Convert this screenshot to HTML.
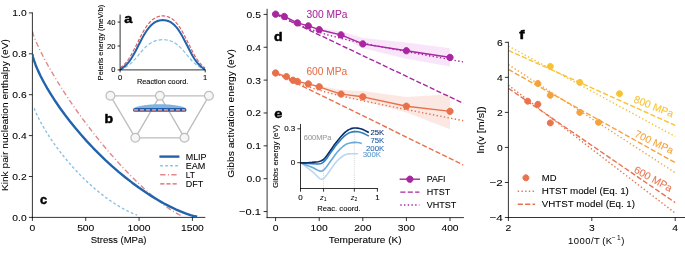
<!DOCTYPE html>
<html><head><meta charset="utf-8"><title>figure</title>
<style>html,body{margin:0;padding:0;background:#fff;}svg{display:block;will-change:transform;}text{font-family:"Liberation Sans",sans-serif;}</style>
</head><body>
<svg width="685" height="254" viewBox="0 0 685 254" version="1.1">
<defs>
<style type="text/css">*{stroke-linejoin: round; stroke-linecap: butt}</style>
</defs>
<g id="figure_1">
<g id="patch_1">
<path d="M 0 254 
L 685 254 
L 685 0 
L 0 0 
z
" style="fill: #ffffff"/>
</g>
<g id="axes_1">
<g id="patch_2">
<path d="M 32.4 217.4 
L 204.8 217.4 
L 204.8 12.9 
L 32.4 12.9 
z
" style="fill: #ffffff"/>
</g>
<g id="matplotlib.axis_1">
<g id="xtick_1">
<g id="line2d_1">
<defs>
<path id="mafdbf0f723" d="M 0 0 
L 0 3.5 
" style="stroke: #000000; stroke-width: 0.8"/>
</defs>
<g>
<use href="#mafdbf0f723" x="32.4" y="217.4" style="stroke: #000000; stroke-width: 0.8"/>
</g>
</g>
<g id="text_1">
<text style="font-size: 9.495px; font-family: 'Liberation Sans'; text-anchor: middle; stroke: #000000; stroke-width: 0.08px" x="32.4" y="231.238594" transform="rotate(-0 32.4 231.238594)" textLength="5.73" lengthAdjust="spacingAndGlyphs">0</text>
</g>
</g>
<g id="xtick_2">
<g id="line2d_2">
<g>
<use href="#mafdbf0f723" x="85.733333" y="217.4" style="stroke: #000000; stroke-width: 0.8"/>
</g>
</g>
<g id="text_2">
<text style="font-size: 9.495px; font-family: 'Liberation Sans'; text-anchor: middle; stroke: #000000; stroke-width: 0.08px" x="85.733333" y="231.238594" transform="rotate(-0 85.733333 231.238594)" textLength="17.18" lengthAdjust="spacingAndGlyphs">500</text>
</g>
</g>
<g id="xtick_3">
<g id="line2d_3">
<g>
<use href="#mafdbf0f723" x="139.066667" y="217.4" style="stroke: #000000; stroke-width: 0.8"/>
</g>
</g>
<g id="text_3">
<text style="font-size: 9.495px; font-family: 'Liberation Sans'; text-anchor: middle; stroke: #000000; stroke-width: 0.08px" x="139.066667" y="231.238594" transform="rotate(-0 139.066667 231.238594)" textLength="22.90" lengthAdjust="spacingAndGlyphs">1000</text>
</g>
</g>
<g id="xtick_4">
<g id="line2d_4">
<g>
<use href="#mafdbf0f723" x="192.4" y="217.4" style="stroke: #000000; stroke-width: 0.8"/>
</g>
</g>
<g id="text_4">
<text style="font-size: 9.495px; font-family: 'Liberation Sans'; text-anchor: middle; stroke: #000000; stroke-width: 0.08px" x="192.4" y="231.238594" transform="rotate(-0 192.4 231.238594)" textLength="22.90" lengthAdjust="spacingAndGlyphs">1500</text>
</g>
</g>
<g id="text_5">
<text style="font-size: 9.495px; font-family: 'Liberation Sans'; text-anchor: middle; stroke: #000000; stroke-width: 0.08px" x="118.6" y="242.948906" transform="rotate(-0 118.6 242.948906)" textLength="55.85" lengthAdjust="spacingAndGlyphs">Stress (MPa)</text>
</g>
</g>
<g id="matplotlib.axis_2">
<g id="ytick_1">
<g id="line2d_5">
<defs>
<path id="m2ff1580961" d="M 0 0 
L -3.5 0 
" style="stroke: #000000; stroke-width: 0.8"/>
</defs>
<g>
<use href="#m2ff1580961" x="32.4" y="217.4" style="stroke: #000000; stroke-width: 0.8"/>
</g>
</g>
<g id="text_6">
<text style="font-size: 9.495px; font-family: 'Liberation Sans'; text-anchor: end; stroke: #000000; stroke-width: 0.08px" x="26.7" y="220.819297" transform="rotate(-0 26.7 220.819297)" textLength="14.31" lengthAdjust="spacingAndGlyphs">0.0</text>
</g>
</g>
<g id="ytick_2">
<g id="line2d_6">
<g>
<use href="#m2ff1580961" x="32.4" y="176.5" style="stroke: #000000; stroke-width: 0.8"/>
</g>
</g>
<g id="text_7">
<text style="font-size: 9.495px; font-family: 'Liberation Sans'; text-anchor: end; stroke: #000000; stroke-width: 0.08px" x="26.7" y="179.919297" transform="rotate(-0 26.7 179.919297)" textLength="14.31" lengthAdjust="spacingAndGlyphs">0.2</text>
</g>
</g>
<g id="ytick_3">
<g id="line2d_7">
<g>
<use href="#m2ff1580961" x="32.4" y="135.6" style="stroke: #000000; stroke-width: 0.8"/>
</g>
</g>
<g id="text_8">
<text style="font-size: 9.495px; font-family: 'Liberation Sans'; text-anchor: end; stroke: #000000; stroke-width: 0.08px" x="26.7" y="139.019297" transform="rotate(-0 26.7 139.019297)" textLength="14.31" lengthAdjust="spacingAndGlyphs">0.4</text>
</g>
</g>
<g id="ytick_4">
<g id="line2d_8">
<g>
<use href="#m2ff1580961" x="32.4" y="94.7" style="stroke: #000000; stroke-width: 0.8"/>
</g>
</g>
<g id="text_9">
<text style="font-size: 9.495px; font-family: 'Liberation Sans'; text-anchor: end; stroke: #000000; stroke-width: 0.08px" x="26.7" y="98.119297" transform="rotate(-0 26.7 98.119297)" textLength="14.31" lengthAdjust="spacingAndGlyphs">0.6</text>
</g>
</g>
<g id="ytick_5">
<g id="line2d_9">
<g>
<use href="#m2ff1580961" x="32.4" y="53.8" style="stroke: #000000; stroke-width: 0.8"/>
</g>
</g>
<g id="text_10">
<text style="font-size: 9.495px; font-family: 'Liberation Sans'; text-anchor: end; stroke: #000000; stroke-width: 0.08px" x="26.7" y="57.219297" transform="rotate(-0 26.7 57.219297)" textLength="14.31" lengthAdjust="spacingAndGlyphs">0.8</text>
</g>
</g>
<g id="ytick_6">
<g id="line2d_10">
<g>
<use href="#m2ff1580961" x="32.4" y="12.9" style="stroke: #000000; stroke-width: 0.8"/>
</g>
</g>
<g id="text_11">
<text style="font-size: 9.495px; font-family: 'Liberation Sans'; text-anchor: end; stroke: #000000; stroke-width: 0.08px" x="26.7" y="16.319297" transform="rotate(-0 26.7 16.319297)" textLength="14.31" lengthAdjust="spacingAndGlyphs">1.0</text>
</g>
</g>
<g id="text_12">
<text style="font-size: 9.389px; font-family: 'Liberation Sans'; text-anchor: middle; stroke: #000000; stroke-width: 0.08px" x="7.836266" y="115.15" transform="rotate(-90 7.836266 115.15)" textLength="151.88" lengthAdjust="spacingAndGlyphs">Kink pair nucleation enthalpy (eV)</text>
</g>
</g>
<g id="line2d_11">
<path d="M 34.106667 108.273523 
L 35.829744 112.433509 
L 37.897436 116.852314 
L 40.654359 122.18732 
L 43.755897 127.688887 
L 47.202051 133.356966 
L 50.992821 139.176847 
L 55.128205 145.126509 
L 59.608205 151.179428 
L 64.432821 157.305689 
L 69.257436 163.073103 
L 74.426667 168.893456 
L 79.595897 174.372098 
L 84.765128 179.530955 
L 89.934359 184.38568 
L 95.10359 188.94705 
L 100.272821 193.221774 
L 105.442051 197.212892 
L 110.611282 200.919839 
L 115.435897 204.11939 
L 120.260513 207.060268 
L 125.085128 209.73058 
L 129.565128 211.951806 
L 133.700513 213.761222 
L 137.146667 215.071608 
L 137.146667 215.071608 
" clip-path="url(#p120eb2be8b)" style="fill: none; stroke-dasharray: 2.702,2.296; stroke-dashoffset: 0; stroke: #8cc0e3; stroke-width: 1.4"/>
</g>
<g id="line2d_12">
<path d="M 32.4 31.5095 
L 33.401026 34.912196 
L 34.902564 38.871925 
L 37.405128 44.686065 
L 40.408205 51.030695 
L 43.911795 57.915493 
L 47.915897 65.319408 
L 52.420513 73.211553 
L 57.425641 81.556715 
L 62.931282 90.317013 
L 68.937436 99.452256 
L 75.444103 108.91972 
L 81.950769 117.99109 
L 88.457436 126.702165 
L 95.464615 135.709205 
L 102.471795 144.349611 
L 109.478974 152.637974 
L 116.486154 160.582919 
L 123.493333 168.187859 
L 130.500513 175.451209 
L 137.007179 181.883977 
L 143.513846 188.006129 
L 149.52 193.36793 
L 155.526154 198.432971 
L 161.031795 202.792372 
L 166.036923 206.493969 
L 171.042051 209.911048 
L 175.546667 212.697558 
L 179.050256 214.629275 
L 182.053333 216.067336 
L 182.053333 216.067336 
" clip-path="url(#p120eb2be8b)" style="fill: none; stroke-dasharray: 5.25,2.45,1.008,2.45; stroke-dashoffset: 0; stroke: #e4878a; stroke-width: 1.4"/>
</g>
<g id="patch_3">
<path d="M 32.4 217.4 
L 32.4 12.9 
" style="fill: none; stroke: #000000; stroke-width: 0.8; stroke-linejoin: miter; stroke-linecap: square"/>
</g>
<g id="patch_4">
<path d="M 32.4 217.4 
L 204.8 217.4 
" style="fill: none; stroke: #000000; stroke-width: 0.8; stroke-linejoin: miter; stroke-linecap: square"/>
</g>
<g id="line2d_13">
<path d="M 32.4 54.2908 
L 32.950814 57.036861 
L 34.052441 60.691343 
L 35.704883 65.184753 
L 37.908138 70.382074 
L 40.662207 76.183368 
L 43.96709 82.508857 
L 47.271973 88.354075 
L 51.12767 94.723232 
L 55.534181 101.539566 
L 59.940691 107.95792 
L 64.898016 114.78399 
L 69.85534 121.253434 
L 75.363478 128.078324 
L 80.871616 134.564354 
L 86.930569 141.347755 
L 92.989521 147.796007 
L 99.048473 153.935049 
L 105.658239 160.302949 
L 112.268004 166.346606 
L 118.87777 172.081078 
L 125.487536 177.517421 
L 132.097302 182.663259 
L 138.707068 187.523109 
L 145.316834 192.098476 
L 151.9266 196.387725 
L 157.985552 200.063852 
L 164.044504 203.488131 
L 170.103456 206.649468 
L 175.611594 209.281338 
L 181.119732 211.663586 
L 186.077057 213.570996 
L 190.483567 215.051107 
L 194.890078 216.287008 
L 197.093333 216.790059 
L 197.093333 216.790059 
" clip-path="url(#p120eb2be8b)" style="fill: none; stroke: #2163ad; stroke-width: 2.4"/>
</g>
</g>
<g id="axes_2">
<g id="patch_5">
<path d="M 120.1 69.9 
L 205.2 69.9 
L 205.2 15.1 
L 120.1 15.1 
z
" style="fill: #ffffff"/>
</g>
<g id="matplotlib.axis_3">
<g id="xtick_5">
<g id="line2d_14">
<defs>
<path id="m4226b7793e" d="M 0 0 
L 0 2.5 
" style="stroke: #000000; stroke-width: 0.8"/>
</defs>
<g>
<use href="#m4226b7793e" x="120.1" y="69.9" style="stroke: #000000; stroke-width: 0.8"/>
</g>
</g>
<g id="text_13">
<text style="font-size: 6.963px; font-family: 'Liberation Sans'; text-anchor: middle; stroke: #000000; stroke-width: 0.08px" x="120.1" y="79.614969" transform="rotate(-0 120.1 79.614969)" textLength="4.20" lengthAdjust="spacingAndGlyphs">0</text>
</g>
</g>
<g id="xtick_6">
<g id="line2d_15">
<g>
<use href="#m4226b7793e" x="205.2" y="69.9" style="stroke: #000000; stroke-width: 0.8"/>
</g>
</g>
<g id="text_14">
<text style="font-size: 6.963px; font-family: 'Liberation Sans'; text-anchor: middle; stroke: #000000; stroke-width: 0.08px" x="205.2" y="79.614969" transform="rotate(-0 205.2 79.614969)" textLength="4.20" lengthAdjust="spacingAndGlyphs">1</text>
</g>
</g>
<g id="text_15">
<text style="font-size: 6.963px; font-family: 'Liberation Sans'; text-anchor: middle; stroke: #000000; stroke-width: 0.08px" x="162.65" y="84.402531" transform="rotate(-0 162.65 84.402531)" textLength="51.35" lengthAdjust="spacingAndGlyphs">Reaction coord.</text>
</g>
</g>
<g id="matplotlib.axis_4">
<g id="ytick_7">
<g id="line2d_16">
<defs>
<path id="m9fe97af8d7" d="M 0 0 
L -2.5 0 
" style="stroke: #000000; stroke-width: 0.8"/>
</defs>
<g>
<use href="#m9fe97af8d7" x="120.1" y="69.9" style="stroke: #000000; stroke-width: 0.8"/>
</g>
</g>
<g id="text_16">
<text style="font-size: 6.963px; font-family: 'Liberation Sans'; text-anchor: end; stroke: #000000; stroke-width: 0.08px" x="115.4" y="72.407484" transform="rotate(-0 115.4 72.407484)" textLength="4.20" lengthAdjust="spacingAndGlyphs">0</text>
</g>
</g>
<g id="ytick_8">
<g id="line2d_17">
<g>
<use href="#m9fe97af8d7" x="120.1" y="46" style="stroke: #000000; stroke-width: 0.8"/>
</g>
</g>
<g id="text_17">
<text style="font-size: 6.963px; font-family: 'Liberation Sans'; text-anchor: end; stroke: #000000; stroke-width: 0.08px" x="115.4" y="48.507484" transform="rotate(-0 115.4 48.507484)" textLength="8.40" lengthAdjust="spacingAndGlyphs">20</text>
</g>
</g>
<g id="ytick_9">
<g id="line2d_18">
<g>
<use href="#m9fe97af8d7" x="120.1" y="22.1" style="stroke: #000000; stroke-width: 0.8"/>
</g>
</g>
<g id="text_18">
<text style="font-size: 6.963px; font-family: 'Liberation Sans'; text-anchor: end; stroke: #000000; stroke-width: 0.08px" x="115.4" y="24.607484" transform="rotate(-0 115.4 24.607484)" textLength="8.40" lengthAdjust="spacingAndGlyphs">40</text>
</g>
</g>
<g id="text_19">
<text style="font-size: 6.963px; font-family: 'Liberation Sans'; text-anchor: middle; stroke: #000000; stroke-width: 0.08px" x="102.628906" y="42.5" transform="rotate(-90 102.628906 42.5)" textLength="75.45" lengthAdjust="spacingAndGlyphs">Peierls energy (meV/b)</text>
</g>
</g>
<g id="line2d_19">
<path d="M 120.1 67.895274 
L 120.527638 67.754057 
L 123.521106 65.168286 
L 125.231658 63.412035 
L 126.942211 61.365805 
L 128.652764 59.002425 
L 130.790955 55.605636 
L 132.929146 51.773474 
L 135.922613 45.89768 
L 141.909548 33.986673 
L 144.475377 29.48582 
L 146.613568 26.211705 
L 148.324121 23.940504 
L 150.034673 21.986209 
L 151.745226 20.342203 
L 153.455779 18.992779 
L 155.166332 17.916771 
L 156.876884 17.09099 
L 158.587437 16.493223 
L 160.29799 16.104658 
L 162.008543 15.911699 
L 163.719095 15.907675 
L 165.429648 16.095882 
L 167.140201 16.484132 
L 168.850754 17.086363 
L 170.561307 17.922015 
L 172.271859 19.014105 
L 173.982412 20.386658 
L 175.692965 22.061513 
L 177.403518 24.05467 
L 179.11407 26.372433 
L 181.252261 29.713799 
L 183.390452 33.499784 
L 185.956281 38.493918 
L 193.653769 53.871448 
L 195.79196 57.522272 
L 197.930151 60.687573 
L 199.640704 62.851753 
L 201.351256 64.707811 
L 203.489447 66.677435 
L 204.772362 67.749832 
L 205.2 67.895274 
L 205.2 67.895274 
" clip-path="url(#pe87dc38e16)" style="fill: none; stroke-dasharray: 3.6,1.68; stroke-dashoffset: 0; stroke: #d9626a; stroke-width: 1.2"/>
</g>
<g id="line2d_20">
<path d="M 120.1 69.9 
L 120.527638 69.804556 
L 122.665829 68.689532 
L 125.659296 67.156021 
L 127.797487 65.808688 
L 129.935678 64.167572 
L 132.073869 62.218607 
L 134.639698 59.518623 
L 138.060804 55.520952 
L 142.764824 50.01195 
L 145.330653 47.342868 
L 147.468844 45.412166 
L 149.607035 43.782187 
L 151.745226 42.457657 
L 153.883417 41.424201 
L 156.021608 40.656187 
L 158.159799 40.124352 
L 160.29799 39.80222 
L 162.863819 39.666534 
L 165.00201 39.756154 
L 167.140201 40.038227 
L 169.278392 40.530164 
L 171.416583 41.258109 
L 173.554774 42.252286 
L 175.692965 43.540509 
L 177.831156 45.140257 
L 179.969347 47.050303 
L 182.107538 49.243461 
L 185.101005 52.675001 
L 191.943216 60.742855 
L 194.081407 62.909251 
L 196.219598 64.776045 
L 198.357789 66.327275 
L 200.49598 67.595146 
L 204.772362 69.801526 
L 205.2 69.9 
L 205.2 69.9 
" clip-path="url(#pe87dc38e16)" style="fill: none; stroke-dasharray: 3.6,1.92; stroke-dashoffset: 0; stroke: #8cc0e3; stroke-width: 1.2"/>
</g>
<g id="line2d_21">
<path d="M 120.1 69.9 
L 120.527638 69.742688 
L 122.238191 68.246168 
L 125.659296 65.377315 
L 127.369849 63.637386 
L 129.080402 61.594951 
L 130.790955 59.226428 
L 132.929146 55.821187 
L 135.494975 51.192125 
L 139.771357 42.82032 
L 143.192462 36.348767 
L 145.330653 32.720854 
L 147.468844 29.53863 
L 149.179397 27.348819 
L 150.88995 25.482737 
L 152.600503 23.932119 
L 154.311055 22.67894 
L 156.021608 21.699724 
L 157.732161 20.969549 
L 159.442714 20.465444 
L 161.153266 20.16906 
L 162.863819 20.068556 
L 164.574372 20.161954 
L 166.284925 20.455705 
L 167.995477 20.96185 
L 169.70603 21.699296 
L 171.416583 22.691824 
L 173.127136 23.965261 
L 174.837688 25.543867 
L 176.548241 27.446082 
L 178.258794 29.679939 
L 179.969347 32.238642 
L 182.107538 35.853452 
L 184.673367 40.67101 
L 192.370854 55.55692 
L 194.509045 59.034501 
L 196.219598 61.454588 
L 197.930151 63.540292 
L 199.640704 65.314151 
L 201.778894 67.189347 
L 205.2 69.9 
L 205.2 69.9 
" clip-path="url(#pe87dc38e16)" style="fill: none; stroke: #2163ad; stroke-width: 2; stroke-linecap: square"/>
</g>
<g id="patch_6">
<path d="M 120.1 69.9 
L 120.1 15.1 
" style="fill: none; stroke: #000000; stroke-width: 0.8; stroke-linejoin: miter; stroke-linecap: square"/>
</g>
<g id="patch_7">
<path d="M 120.1 69.9 
L 205.2 69.9 
" style="fill: none; stroke: #000000; stroke-width: 0.8; stroke-linejoin: miter; stroke-linecap: square"/>
</g>
</g>
<g id="axes_3">
<g id="patch_8">
<path d="M 267.1 217.6 
L 463.4 217.6 
L 463.4 9.3 
L 267.1 9.3 
z
" style="fill: #ffffff"/>
</g>
<g id="FillBetweenPolyCollection_1">
<defs>
<path id="m3e0a8b402a" d="M 308.3 -227.9347 
L 308.3 -228.5919 
L 319.2 -225.93024 
L 341 -222.80854 
L 362.8 -216.00652 
L 406.4 -211.5047 
L 450 -205.78706 
L 450 -187.38546 
L 450 -187.38546 
L 406.4 -195.20614 
L 362.8 -205.78706 
L 341 -216.598 
L 319.2 -223.95864 
L 308.3 -227.9347 
z
"/>
</defs>
<g clip-path="url(#p90932cecc2)">
<use href="#m3e0a8b402a" x="0" y="254" style="fill: #d94fe0; fill-opacity: 0.15"/>
</g>
</g>
<g id="FillBetweenPolyCollection_2">
<defs>
<path id="m1641949480" d="M 319.2 -165.73072 
L 319.2 -168.49096 
L 341 -164.08772 
L 362.8 -163.00334 
L 406.4 -156.89138 
L 450 -159.81592 
L 450 -124.68858 
L 450 -124.68858 
L 406.4 -141.61148 
L 362.8 -153.21106 
L 341 -157.6143 
L 319.2 -165.73072 
z
"/>
</defs>
<g clip-path="url(#p90932cecc2)">
<use href="#m1641949480" x="0" y="254" style="fill: #e8714b; fill-opacity: 0.16"/>
</g>
</g>
<g id="matplotlib.axis_5">
<g id="xtick_7">
<g id="line2d_22">
<g>
<use href="#mafdbf0f723" x="275.6" y="217.6" style="stroke: #000000; stroke-width: 0.8"/>
</g>
</g>
<g id="text_20">
<text style="font-size: 9.495px; font-family: 'Liberation Sans'; text-anchor: middle; stroke: #000000; stroke-width: 0.08px" x="275.6" y="231.438594" transform="rotate(-0 275.6 231.438594)" textLength="5.73" lengthAdjust="spacingAndGlyphs">0</text>
</g>
</g>
<g id="xtick_8">
<g id="line2d_23">
<g>
<use href="#mafdbf0f723" x="319.2" y="217.6" style="stroke: #000000; stroke-width: 0.8"/>
</g>
</g>
<g id="text_21">
<text style="font-size: 9.495px; font-family: 'Liberation Sans'; text-anchor: middle; stroke: #000000; stroke-width: 0.08px" x="319.2" y="231.438594" transform="rotate(-0 319.2 231.438594)" textLength="17.18" lengthAdjust="spacingAndGlyphs">100</text>
</g>
</g>
<g id="xtick_9">
<g id="line2d_24">
<g>
<use href="#mafdbf0f723" x="362.8" y="217.6" style="stroke: #000000; stroke-width: 0.8"/>
</g>
</g>
<g id="text_22">
<text style="font-size: 9.495px; font-family: 'Liberation Sans'; text-anchor: middle; stroke: #000000; stroke-width: 0.08px" x="362.8" y="231.438594" transform="rotate(-0 362.8 231.438594)" textLength="17.18" lengthAdjust="spacingAndGlyphs">200</text>
</g>
</g>
<g id="xtick_10">
<g id="line2d_25">
<g>
<use href="#mafdbf0f723" x="406.4" y="217.6" style="stroke: #000000; stroke-width: 0.8"/>
</g>
</g>
<g id="text_23">
<text style="font-size: 9.495px; font-family: 'Liberation Sans'; text-anchor: middle; stroke: #000000; stroke-width: 0.08px" x="406.4" y="231.438594" transform="rotate(-0 406.4 231.438594)" textLength="17.18" lengthAdjust="spacingAndGlyphs">300</text>
</g>
</g>
<g id="xtick_11">
<g id="line2d_26">
<g>
<use href="#mafdbf0f723" x="450" y="217.6" style="stroke: #000000; stroke-width: 0.8"/>
</g>
</g>
<g id="text_24">
<text style="font-size: 9.495px; font-family: 'Liberation Sans'; text-anchor: middle; stroke: #000000; stroke-width: 0.08px" x="450" y="231.438594" transform="rotate(-0 450 231.438594)" textLength="17.18" lengthAdjust="spacingAndGlyphs">400</text>
</g>
</g>
<g id="text_25">
<text style="font-size: 9.495px; font-family: 'Liberation Sans'; text-anchor: middle; stroke: #000000; stroke-width: 0.08px" x="365.25" y="243.148906" transform="rotate(-0 365.25 243.148906)" textLength="72.80" lengthAdjust="spacingAndGlyphs">Temperature (K)</text>
</g>
</g>
<g id="matplotlib.axis_6">
<g id="ytick_10">
<g id="line2d_27">
<g>
<use href="#m2ff1580961" x="267.1" y="211.56" style="stroke: #000000; stroke-width: 0.8"/>
</g>
</g>
<g id="text_26">
<text style="font-size: 9.495px; font-family: 'Liberation Sans'; text-anchor: end; stroke: #000000; stroke-width: 0.08px" x="260.9" y="214.979297" transform="rotate(-0 260.9 214.979297)" textLength="21.85" lengthAdjust="spacingAndGlyphs">−0.1</text>
</g>
</g>
<g id="ytick_11">
<g id="line2d_28">
<g>
<use href="#m2ff1580961" x="267.1" y="178.7" style="stroke: #000000; stroke-width: 0.8"/>
</g>
</g>
<g id="text_27">
<text style="font-size: 9.495px; font-family: 'Liberation Sans'; text-anchor: end; stroke: #000000; stroke-width: 0.08px" x="260.9" y="182.119297" transform="rotate(-0 260.9 182.119297)" textLength="14.31" lengthAdjust="spacingAndGlyphs">0.0</text>
</g>
</g>
<g id="ytick_12">
<g id="line2d_29">
<g>
<use href="#m2ff1580961" x="267.1" y="145.84" style="stroke: #000000; stroke-width: 0.8"/>
</g>
</g>
<g id="text_28">
<text style="font-size: 9.495px; font-family: 'Liberation Sans'; text-anchor: end; stroke: #000000; stroke-width: 0.08px" x="260.9" y="149.259297" transform="rotate(-0 260.9 149.259297)" textLength="14.31" lengthAdjust="spacingAndGlyphs">0.1</text>
</g>
</g>
<g id="ytick_13">
<g id="line2d_30">
<g>
<use href="#m2ff1580961" x="267.1" y="112.98" style="stroke: #000000; stroke-width: 0.8"/>
</g>
</g>
<g id="text_29">
<text style="font-size: 9.495px; font-family: 'Liberation Sans'; text-anchor: end; stroke: #000000; stroke-width: 0.08px" x="260.9" y="116.399297" transform="rotate(-0 260.9 116.399297)" textLength="14.31" lengthAdjust="spacingAndGlyphs">0.2</text>
</g>
</g>
<g id="ytick_14">
<g id="line2d_31">
<g>
<use href="#m2ff1580961" x="267.1" y="80.12" style="stroke: #000000; stroke-width: 0.8"/>
</g>
</g>
<g id="text_30">
<text style="font-size: 9.495px; font-family: 'Liberation Sans'; text-anchor: end; stroke: #000000; stroke-width: 0.08px" x="260.9" y="83.539297" transform="rotate(-0 260.9 83.539297)" textLength="14.31" lengthAdjust="spacingAndGlyphs">0.3</text>
</g>
</g>
<g id="ytick_15">
<g id="line2d_32">
<g>
<use href="#m2ff1580961" x="267.1" y="47.26" style="stroke: #000000; stroke-width: 0.8"/>
</g>
</g>
<g id="text_31">
<text style="font-size: 9.495px; font-family: 'Liberation Sans'; text-anchor: end; stroke: #000000; stroke-width: 0.08px" x="260.9" y="50.679297" transform="rotate(-0 260.9 50.679297)" textLength="14.31" lengthAdjust="spacingAndGlyphs">0.4</text>
</g>
</g>
<g id="ytick_16">
<g id="line2d_33">
<g>
<use href="#m2ff1580961" x="267.1" y="14.4" style="stroke: #000000; stroke-width: 0.8"/>
</g>
</g>
<g id="text_32">
<text style="font-size: 9.495px; font-family: 'Liberation Sans'; text-anchor: end; stroke: #000000; stroke-width: 0.08px" x="260.9" y="17.819297" transform="rotate(-0 260.9 17.819297)" textLength="14.31" lengthAdjust="spacingAndGlyphs">0.5</text>
</g>
</g>
<g id="text_33">
<text style="font-size: 9.495px; font-family: 'Liberation Sans'; text-anchor: middle; stroke: #000000; stroke-width: 0.08px" x="234.07375" y="113.45" transform="rotate(-90 234.07375 113.45)" textLength="128.82" lengthAdjust="spacingAndGlyphs">Gibbs activation energy (eV)</text>
</g>
</g>
<g id="line2d_34">
<path d="M 275.6 14.20284 
L 463.516 103.427598 
" clip-path="url(#p90932cecc2)" style="fill: none; stroke-dasharray: 5.18,2.24; stroke-dashoffset: 0; stroke: #a8279f; stroke-width: 1.4"/>
</g>
<g id="line2d_35">
<path d="M 275.6 72.98938 
L 463.516 165.04667 
" clip-path="url(#p90932cecc2)" style="fill: none; stroke-dasharray: 5.18,2.24; stroke-dashoffset: 0; stroke: #e8714b; stroke-width: 1.4"/>
</g>
<g id="line2d_36">
<path d="M 275.6 14.20284 
L 288.820221 20.472384 
L 296.374633 23.826242 
L 303.929045 26.921788 
L 310.539156 29.396227 
L 317.149266 31.654771 
L 324.703678 33.993759 
L 333.202392 36.361016 
L 342.645407 38.730794 
L 353.032724 41.103755 
L 366.252945 43.885256 
L 384.194673 47.408599 
L 411.579417 52.527678 
L 463.516 61.986917 
L 463.516 61.986917 
" clip-path="url(#p90932cecc2)" style="fill: none; stroke-dasharray: 1.4,2.31; stroke-dashoffset: 0; stroke: #a8279f; stroke-width: 1.4"/>
</g>
<g id="line2d_37">
<path d="M 275.6 72.98938 
L 288.820221 79.043678 
L 296.374633 82.246088 
L 302.984744 84.821165 
L 309.594854 87.17207 
L 317.149266 89.600548 
L 324.703678 91.79133 
L 333.202392 94.029891 
L 343.589709 96.52821 
L 356.80993 99.461961 
L 375.69596 103.39415 
L 406.85791 109.619736 
L 463.516 120.752713 
L 463.516 120.752713 
" clip-path="url(#p90932cecc2)" style="fill: none; stroke-dasharray: 1.4,2.31; stroke-dashoffset: 0; stroke: #e8714b; stroke-width: 1.4"/>
</g>
<g id="line2d_38">
<path d="M 275.6 14.20284 
L 284.32 16.50304 
L 297.4 22.91074 
L 308.3 25.901 
L 319.2 29.71276 
L 341 34.90464 
L 362.8 43.90828 
L 406.4 50.7103 
L 450 57.41374 
" clip-path="url(#p90932cecc2)" style="fill: none; stroke: #a8279f; stroke-width: 1.4; stroke-linecap: square"/>
<defs>
<path id="m99362f6c57" d="M 0 3.15 
C 0.83539 3.15 1.636677 2.818096 2.227386 2.227386 
C 2.818096 1.636677 3.15 0.83539 3.15 0 
C 3.15 -0.83539 2.818096 -1.636677 2.227386 -2.227386 
C 1.636677 -2.818096 0.83539 -3.15 0 -3.15 
C -0.83539 -3.15 -1.636677 -2.818096 -2.227386 -2.227386 
C -2.818096 -1.636677 -3.15 -0.83539 -3.15 0 
C -3.15 0.83539 -2.818096 1.636677 -2.227386 2.227386 
C -1.636677 2.818096 -0.83539 3.15 0 3.15 
z
" style="stroke: #a8279f"/>
</defs>
<g clip-path="url(#p90932cecc2)">
<use href="#m99362f6c57" x="275.6" y="14.20284" style="fill: #a8279f; stroke: #a8279f"/>
<use href="#m99362f6c57" x="284.32" y="16.50304" style="fill: #a8279f; stroke: #a8279f"/>
<use href="#m99362f6c57" x="297.4" y="22.91074" style="fill: #a8279f; stroke: #a8279f"/>
<use href="#m99362f6c57" x="308.3" y="25.901" style="fill: #a8279f; stroke: #a8279f"/>
<use href="#m99362f6c57" x="319.2" y="29.71276" style="fill: #a8279f; stroke: #a8279f"/>
<use href="#m99362f6c57" x="341" y="34.90464" style="fill: #a8279f; stroke: #a8279f"/>
<use href="#m99362f6c57" x="362.8" y="43.90828" style="fill: #a8279f; stroke: #a8279f"/>
<use href="#m99362f6c57" x="406.4" y="50.7103" style="fill: #a8279f; stroke: #a8279f"/>
<use href="#m99362f6c57" x="450" y="57.41374" style="fill: #a8279f; stroke: #a8279f"/>
</g>
</g>
<g id="line2d_39">
<path d="M 275.6 72.98938 
L 286.5 76.60398 
L 293.04 80.25144 
L 297.4 81.46726 
L 308.3 83.8989 
L 319.2 86.79058 
L 341 94.0855 
L 362.8 96.81288 
L 406.4 106.21084 
L 450 111.30414 
" clip-path="url(#p90932cecc2)" style="fill: none; stroke: #e8714b; stroke-width: 1.4; stroke-linecap: square"/>
<defs>
<path id="mea6b6397ad" d="M 0 3.15 
C 0.83539 3.15 1.636677 2.818096 2.227386 2.227386 
C 2.818096 1.636677 3.15 0.83539 3.15 0 
C 3.15 -0.83539 2.818096 -1.636677 2.227386 -2.227386 
C 1.636677 -2.818096 0.83539 -3.15 0 -3.15 
C -0.83539 -3.15 -1.636677 -2.818096 -2.227386 -2.227386 
C -2.818096 -1.636677 -3.15 -0.83539 -3.15 0 
C -3.15 0.83539 -2.818096 1.636677 -2.227386 2.227386 
C -1.636677 2.818096 -0.83539 3.15 0 3.15 
z
" style="stroke: #e8714b"/>
</defs>
<g clip-path="url(#p90932cecc2)">
<use href="#mea6b6397ad" x="275.6" y="72.98938" style="fill: #e8714b; stroke: #e8714b"/>
<use href="#mea6b6397ad" x="286.5" y="76.60398" style="fill: #e8714b; stroke: #e8714b"/>
<use href="#mea6b6397ad" x="293.04" y="80.25144" style="fill: #e8714b; stroke: #e8714b"/>
<use href="#mea6b6397ad" x="297.4" y="81.46726" style="fill: #e8714b; stroke: #e8714b"/>
<use href="#mea6b6397ad" x="308.3" y="83.8989" style="fill: #e8714b; stroke: #e8714b"/>
<use href="#mea6b6397ad" x="319.2" y="86.79058" style="fill: #e8714b; stroke: #e8714b"/>
<use href="#mea6b6397ad" x="341" y="94.0855" style="fill: #e8714b; stroke: #e8714b"/>
<use href="#mea6b6397ad" x="362.8" y="96.81288" style="fill: #e8714b; stroke: #e8714b"/>
<use href="#mea6b6397ad" x="406.4" y="106.21084" style="fill: #e8714b; stroke: #e8714b"/>
<use href="#mea6b6397ad" x="450" y="111.30414" style="fill: #e8714b; stroke: #e8714b"/>
</g>
</g>
<g id="patch_9">
<path d="M 267.1 217.6 
L 267.1 9.3 
" style="fill: none; stroke: #000000; stroke-width: 0.8; stroke-linejoin: miter; stroke-linecap: square"/>
</g>
<g id="patch_10">
<path d="M 267.1 217.6 
L 463.4 217.6 
" style="fill: none; stroke: #000000; stroke-width: 0.8; stroke-linejoin: miter; stroke-linecap: square"/>
</g>
</g>
<g id="axes_4">
<g id="patch_11">
<path d="M 300.5 188.5 
L 377.4 188.5 
L 377.4 124.4 
L 300.5 124.4 
z
" style="fill: #ffffff"/>
</g>
<g id="matplotlib.axis_7">
<g id="xtick_12">
<g id="line2d_40">
<defs>
<path id="me17bf3cef7" d="M 0 0 
L 0 3.2 
" style="stroke: #000000; stroke-width: 0.8"/>
</defs>
<g>
<use href="#me17bf3cef7" x="300.5" y="188.5" style="stroke: #000000; stroke-width: 0.8"/>
</g>
</g>
<g id="text_34">
<text style="font-size: 7.385px; font-family: 'Liberation Sans'; text-anchor: middle; stroke: #000000; stroke-width: 0.08px" x="300.5" y="200.418906" transform="rotate(-0 300.5 200.418906)" textLength="4.45" lengthAdjust="spacingAndGlyphs">0</text>
</g>
</g>
<g id="xtick_13">
<g id="line2d_41">
<g>
<use href="#me17bf3cef7" x="323.57" y="188.5" style="stroke: #000000; stroke-width: 0.8"/>
</g>
</g>
<g id="text_35">
<g transform="translate(320.07 200.418906)">
<text>
<tspan x="0" y="-0.171875" style="font-style: oblique; font-size: 7.385px; font-family: 'Liberation Sans'">z</tspan>
<tspan x="3.674316" y="0.976562" style="font-size: 5.170px; font-family: 'Liberation Sans'">1</tspan>
</text>
</g>
</g>
</g>
<g id="xtick_14">
<g id="line2d_42">
<g>
<use href="#me17bf3cef7" x="354.33" y="188.5" style="stroke: #000000; stroke-width: 0.8"/>
</g>
</g>
<g id="text_36">
<g transform="translate(350.83 200.418906)">
<text>
<tspan x="0" y="-0.171875" style="font-style: oblique; font-size: 7.385px; font-family: 'Liberation Sans'">z</tspan>
<tspan x="3.674316" y="0.976562" style="font-size: 5.170px; font-family: 'Liberation Sans'">2</tspan>
</text>
</g>
</g>
</g>
<g id="xtick_15">
<g id="line2d_43">
<g>
<use href="#me17bf3cef7" x="377.4" y="188.5" style="stroke: #000000; stroke-width: 0.8"/>
</g>
</g>
<g id="text_37">
<text style="font-size: 7.385px; font-family: 'Liberation Sans'; text-anchor: middle; stroke: #000000; stroke-width: 0.08px" x="377.4" y="200.418906" transform="rotate(-0 377.4 200.418906)" textLength="4.45" lengthAdjust="spacingAndGlyphs">1</text>
</g>
</g>
<g id="text_38">
<text style="font-size: 7.385px; font-family: 'Liberation Sans'; text-anchor: middle; stroke: #000000; stroke-width: 0.08px" x="338.95" y="210.593594" transform="rotate(-0 338.95 210.593594)" textLength="43.28" lengthAdjust="spacingAndGlyphs">Reac. coord.</text>
</g>
</g>
<g id="matplotlib.axis_8">
<g id="ytick_17">
<g id="line2d_44">
<defs>
<path id="m7054ab69a7" d="M 0 0 
L -3.2 0 
" style="stroke: #000000; stroke-width: 0.8"/>
</defs>
<g>
<use href="#m7054ab69a7" x="300.5" y="162.7" style="stroke: #000000; stroke-width: 0.8"/>
</g>
</g>
<g id="text_39">
<text style="font-size: 7.385px; font-family: 'Liberation Sans'; text-anchor: end; stroke: #000000; stroke-width: 0.08px" x="295.3" y="165.359453" transform="rotate(-0 295.3 165.359453)" textLength="4.45" lengthAdjust="spacingAndGlyphs">0</text>
</g>
</g>
<g id="ytick_18">
<g id="line2d_45">
<g>
<use href="#m7054ab69a7" x="300.5" y="128.8" style="stroke: #000000; stroke-width: 0.8"/>
</g>
</g>
<g id="text_40">
<text style="font-size: 7.385px; font-family: 'Liberation Sans'; text-anchor: end; stroke: #000000; stroke-width: 0.08px" x="295.3" y="131.459453" transform="rotate(-0 295.3 131.459453)" textLength="11.13" lengthAdjust="spacingAndGlyphs">0.3</text>
</g>
</g>
<g id="text_41">
<text style="font-size: 7.385px; font-family: 'Liberation Sans'; text-anchor: middle; stroke: #000000; stroke-width: 0.08px" x="278.112031" y="156.45" transform="rotate(-90 278.112031 156.45)" textLength="63.30" lengthAdjust="spacingAndGlyphs">Gibbs energy (eV)</text>
</g>
</g>
<g id="LineCollection_1">
<path d="M 323.57 188.5 
L 323.57 159.31 
" clip-path="url(#p895ab0e176)" style="fill: none; stroke-dasharray: 0.8,1.32; stroke-dashoffset: 0; stroke: #bbbbbb; stroke-width: 0.8"/>
<path d="M 354.33 188.5 
L 354.33 128.009 
" clip-path="url(#p895ab0e176)" style="fill: none; stroke-dasharray: 0.8,1.32; stroke-dashoffset: 0; stroke: #bbbbbb; stroke-width: 0.8"/>
</g>
<g id="line2d_46">
<path d="M 300.5 162.7 
L 306.186485 166.951669 
L 313.389366 172.34649 
L 315.284861 174.267193 
L 318.696752 177.782965 
L 319.834049 178.626561 
L 320.781796 179.080166 
L 321.539994 179.237791 
L 322.298192 179.180592 
L 323.05639 178.87869 
L 323.814588 178.311493 
L 325.141435 176.982083 
L 326.657831 175.127382 
L 328.742875 172.200626 
L 333.860712 164.868398 
L 336.135306 162.002112 
L 338.030801 160.020011 
L 340.305395 157.99416 
L 343.148637 155.78296 
L 344.475484 154.982789 
L 345.80233 154.414884 
L 347.318726 154.020856 
L 349.024672 153.83433 
L 351.678365 153.824361 
L 354.521607 153.758411 
L 356.417102 153.727135 
L 357.1753 153.771317 
L 357.1753 153.771317 
" clip-path="url(#p895ab0e176)" style="fill: none; stroke: #bcd6ee; stroke-width: 1.6; stroke-linecap: square"/>
</g>
<g id="line2d_47">
<path d="M 300.5 162.7 
L 304.548181 164.465566 
L 310.013224 166.583094 
L 313.656587 168.042047 
L 316.287904 169.471594 
L 318.514404 170.610979 
L 319.728858 171.010782 
L 320.740903 171.140864 
L 321.752948 171.031079 
L 322.562584 170.735744 
L 323.37222 170.227233 
L 324.586675 169.108754 
L 326.003538 167.482121 
L 327.825219 165.031583 
L 335.719171 153.917661 
L 337.945671 151.343886 
L 340.576988 148.646753 
L 343.208305 146.236074 
L 344.827578 145.022647 
L 346.44685 144.091651 
L 348.066122 143.432785 
L 349.887803 142.956135 
L 352.114303 142.630245 
L 355.555256 142.384539 
L 357.376937 142.47732 
L 359.401028 142.805425 
L 361.0203 143.226886 
L 361.0203 143.226886 
" clip-path="url(#p895ab0e176)" style="fill: none; stroke: #69acdc; stroke-width: 1.6; stroke-linecap: square"/>
</g>
<g id="line2d_48">
<path d="M 300.5 162.7 
L 303.894916 163.17329 
L 307.742488 163.476201 
L 318.153565 163.925013 
L 319.73786 163.802388 
L 321.095826 163.460388 
L 322.227465 162.946726 
L 323.359104 162.175394 
L 324.490742 161.126024 
L 325.848709 159.578274 
L 327.659331 157.159068 
L 331.733231 151.160924 
L 334.901819 146.798598 
L 337.84408 143.105491 
L 341.238997 139.209203 
L 343.728602 136.662944 
L 345.539224 135.099154 
L 347.349846 133.839797 
L 348.93414 132.996992 
L 350.744763 132.299751 
L 352.555385 131.850765 
L 354.592334 131.596966 
L 356.402957 131.594015 
L 358.213579 131.80048 
L 360.250528 132.257914 
L 362.513806 133.011906 
L 365.003411 134.088327 
L 367.945672 135.613872 
L 368.172 135.740008 
L 368.172 135.740008 
" clip-path="url(#p895ab0e176)" style="fill: none; stroke: #2f7fc0; stroke-width: 1.6; stroke-linecap: square"/>
</g>
<g id="line2d_49">
<path d="M 300.5 162.7 
L 303.668589 162.831151 
L 307.289833 162.74975 
L 312.042716 162.39725 
L 318.379893 161.710344 
L 319.964187 161.330847 
L 321.322154 160.797887 
L 322.68012 160.003712 
L 323.811759 159.094986 
L 325.169726 157.690483 
L 326.75402 155.708699 
L 329.017298 152.477793 
L 333.770181 145.596589 
L 337.165097 141.167579 
L 341.012669 136.532789 
L 343.502274 133.838697 
L 345.539224 131.939233 
L 347.349846 130.55541 
L 348.93414 129.604085 
L 350.518435 128.883044 
L 352.102729 128.378526 
L 353.913351 128.049412 
L 355.723973 127.964426 
L 357.534595 128.101537 
L 359.571545 128.493024 
L 361.608495 129.104604 
L 364.0981 130.103875 
L 366.814033 131.444652 
L 368.172 132.19 
L 368.172 132.19 
" clip-path="url(#p895ab0e176)" style="fill: none; stroke: #08306b; stroke-width: 1.6; stroke-linecap: square"/>
</g>
<g id="patch_12">
<path d="M 300.5 188.5 
L 300.5 124.4 
" style="fill: none; stroke: #000000; stroke-width: 0.8; stroke-linejoin: miter; stroke-linecap: square"/>
</g>
<g id="patch_13">
<path d="M 300.5 188.5 
L 377.4 188.5 
" style="fill: none; stroke: #000000; stroke-width: 0.8; stroke-linejoin: miter; stroke-linecap: square"/>
</g>
</g>
<g id="axes_5">
<g id="patch_14">
<path d="M 508.4 217.5 
L 684.5 217.5 
L 684.5 42.3 
L 508.4 42.3 
z
" style="fill: #ffffff"/>
</g>
<g id="matplotlib.axis_9">
<g id="xtick_16">
<g id="line2d_50">
<g>
<use href="#mafdbf0f723" x="508.4" y="217.5" style="stroke: #000000; stroke-width: 0.8"/>
</g>
</g>
<g id="text_42">
<text style="font-size: 9.495px; font-family: 'Liberation Sans'; text-anchor: middle; stroke: #000000; stroke-width: 0.08px" x="508.4" y="231.338594" transform="rotate(-0 508.4 231.338594)" textLength="5.73" lengthAdjust="spacingAndGlyphs">2</text>
</g>
</g>
<g id="xtick_17">
<g id="line2d_51">
<g>
<use href="#mafdbf0f723" x="591.8" y="217.5" style="stroke: #000000; stroke-width: 0.8"/>
</g>
</g>
<g id="text_43">
<text style="font-size: 9.495px; font-family: 'Liberation Sans'; text-anchor: middle; stroke: #000000; stroke-width: 0.08px" x="591.8" y="231.338594" transform="rotate(-0 591.8 231.338594)" textLength="5.73" lengthAdjust="spacingAndGlyphs">3</text>
</g>
</g>
<g id="xtick_18">
<g id="line2d_52">
<g>
<use href="#mafdbf0f723" x="675.2" y="217.5" style="stroke: #000000; stroke-width: 0.8"/>
</g>
</g>
<g id="text_44">
<text style="font-size: 9.495px; font-family: 'Liberation Sans'; text-anchor: middle; stroke: #000000; stroke-width: 0.08px" x="675.2" y="231.338594" transform="rotate(-0 675.2 231.338594)" textLength="5.73" lengthAdjust="spacingAndGlyphs">4</text>
</g>
</g>
<g id="text_45">
<g transform="translate(568.01 244.498594)">
<text>
<tspan x="0" y="-0.960938" style="font-size: 9.495px; font-family: 'Liberation Sans'">1</tspan>
<tspan x="5.726074" y="-0.960938" style="font-size: 9.495px; font-family: 'Liberation Sans'">0</tspan>
<tspan x="11.452148" y="-0.960938" style="font-size: 9.495px; font-family: 'Liberation Sans'">0</tspan>
<tspan x="17.178223" y="-0.960938" style="font-size: 9.495px; font-family: 'Liberation Sans'">0</tspan>
<tspan x="22.904297" y="-0.960938" style="font-size: 9.495px; font-family: 'Liberation Sans'">/</tspan>
<tspan x="25.936523" y="-0.960938" style="font-size: 9.495px; font-family: 'Liberation Sans'">T</tspan>
<tspan x="31.434082" y="-0.960938" style="font-size: 9.495px; font-family: 'Liberation Sans'"> </tspan>
<tspan x="34.294922" y="-0.960938" style="font-size: 9.495px; font-family: 'Liberation Sans'">(</tspan>
<tspan x="37.806152" y="-0.960938" style="font-size: 9.495px; font-family: 'Liberation Sans'">K</tspan>
<tspan x="53.327197" y="-0.960938" style="font-size: 9.495px; font-family: 'Liberation Sans'">)</tspan>
<tspan x="43.794141" y="-4.40625" style="font-size: 6.646px; font-family: 'Liberation Sans'">−</tspan>
<tspan x="49.072852" y="-4.40625" style="font-size: 6.646px; font-family: 'Liberation Sans'">1</tspan>
</text>
</g>
</g>
</g>
<g id="matplotlib.axis_10">
<g id="ytick_19">
<g id="line2d_53">
<g>
<use href="#m2ff1580961" x="508.4" y="217.5" style="stroke: #000000; stroke-width: 0.8"/>
</g>
</g>
<g id="text_46">
<text style="font-size: 9.495px; font-family: 'Liberation Sans'; text-anchor: end; stroke: #000000; stroke-width: 0.08px" x="502.7" y="220.919297" transform="rotate(-0 502.7 220.919297)" textLength="13.27" lengthAdjust="spacingAndGlyphs">−4</text>
</g>
</g>
<g id="ytick_20">
<g id="line2d_54">
<g>
<use href="#m2ff1580961" x="508.4" y="182.46" style="stroke: #000000; stroke-width: 0.8"/>
</g>
</g>
<g id="text_47">
<text style="font-size: 9.495px; font-family: 'Liberation Sans'; text-anchor: end; stroke: #000000; stroke-width: 0.08px" x="502.7" y="185.879297" transform="rotate(-0 502.7 185.879297)" textLength="13.27" lengthAdjust="spacingAndGlyphs">−2</text>
</g>
</g>
<g id="ytick_21">
<g id="line2d_55">
<g>
<use href="#m2ff1580961" x="508.4" y="147.42" style="stroke: #000000; stroke-width: 0.8"/>
</g>
</g>
<g id="text_48">
<text style="font-size: 9.495px; font-family: 'Liberation Sans'; text-anchor: end; stroke: #000000; stroke-width: 0.08px" x="502.7" y="150.839297" transform="rotate(-0 502.7 150.839297)" textLength="5.73" lengthAdjust="spacingAndGlyphs">0</text>
</g>
</g>
<g id="ytick_22">
<g id="line2d_56">
<g>
<use href="#m2ff1580961" x="508.4" y="112.38" style="stroke: #000000; stroke-width: 0.8"/>
</g>
</g>
<g id="text_49">
<text style="font-size: 9.495px; font-family: 'Liberation Sans'; text-anchor: end; stroke: #000000; stroke-width: 0.08px" x="502.7" y="115.799297" transform="rotate(-0 502.7 115.799297)" textLength="5.73" lengthAdjust="spacingAndGlyphs">2</text>
</g>
</g>
<g id="ytick_23">
<g id="line2d_57">
<g>
<use href="#m2ff1580961" x="508.4" y="77.34" style="stroke: #000000; stroke-width: 0.8"/>
</g>
</g>
<g id="text_50">
<text style="font-size: 9.495px; font-family: 'Liberation Sans'; text-anchor: end; stroke: #000000; stroke-width: 0.08px" x="502.7" y="80.759297" transform="rotate(-0 502.7 80.759297)" textLength="5.73" lengthAdjust="spacingAndGlyphs">4</text>
</g>
</g>
<g id="ytick_24">
<g id="line2d_58">
<g>
<use href="#m2ff1580961" x="508.4" y="42.3" style="stroke: #000000; stroke-width: 0.8"/>
</g>
</g>
<g id="text_51">
<text style="font-size: 9.495px; font-family: 'Liberation Sans'; text-anchor: end; stroke: #000000; stroke-width: 0.08px" x="502.7" y="45.719297" transform="rotate(-0 502.7 45.719297)" textLength="5.73" lengthAdjust="spacingAndGlyphs">6</text>
</g>
</g>
<g id="text_52">
<text style="font-size: 9.495px; font-family: 'Liberation Sans'; text-anchor: middle; stroke: #000000; stroke-width: 0.08px" x="484.260312" y="129.9" transform="rotate(-90 484.260312 129.9)" textLength="46.93" lengthAdjust="spacingAndGlyphs">ln(v [m/s])</text>
</g>
</g>
<g id="line2d_59">
<path d="M 508.4 45.99672 
L 675.2 136.50504 
" clip-path="url(#p0543f78f2b)" style="fill: none; stroke-dasharray: 1.4,2.31; stroke-dashoffset: 0; stroke: #f7c334; stroke-width: 1.4"/>
</g>
<g id="line2d_60">
<path d="M 508.4 50.39424 
L 675.2 125.39736 
" clip-path="url(#p0543f78f2b)" style="fill: none; stroke-dasharray: 5.18,2.24; stroke-dashoffset: 0; stroke: #f7c334; stroke-width: 1.4"/>
</g>
<g id="line2d_61">
<path d="M 508.4 64.60296 
L 675.2 172.70136 
" clip-path="url(#p0543f78f2b)" style="fill: none; stroke-dasharray: 1.4,2.31; stroke-dashoffset: 0; stroke: #f6a23c; stroke-width: 1.4"/>
</g>
<g id="line2d_62">
<path d="M 508.4 69.40344 
L 675.2 162.69744 
" clip-path="url(#p0543f78f2b)" style="fill: none; stroke-dasharray: 5.18,2.24; stroke-dashoffset: 0; stroke: #f6a23c; stroke-width: 1.4"/>
</g>
<g id="line2d_63">
<path d="M 508.4 85.10136 
L 675.2 213.10248 
" clip-path="url(#p0543f78f2b)" style="fill: none; stroke-dasharray: 1.4,2.31; stroke-dashoffset: 0; stroke: #e8734e; stroke-width: 1.4"/>
</g>
<g id="line2d_64">
<path d="M 508.4 88.30752 
L 675.2 202.59048 
" clip-path="url(#p0543f78f2b)" style="fill: none; stroke-dasharray: 5.18,2.24; stroke-dashoffset: 0; stroke: #e8734e; stroke-width: 1.4"/>
</g>
<g id="line2d_65">
<defs>
<path id="m6a6519ec40" d="M 0 3 
C 0.795609 3 1.55874 2.683901 2.12132 2.12132 
C 2.683901 1.55874 3 0.795609 3 0 
C 3 -0.795609 2.683901 -1.55874 2.12132 -2.12132 
C 1.55874 -2.683901 0.795609 -3 0 -3 
C -0.795609 -3 -1.55874 -2.683901 -2.12132 -2.12132 
C -2.683901 -1.55874 -3 -0.795609 -3 0 
C -3 0.795609 -2.683901 1.55874 -2.12132 2.12132 
C -1.55874 2.683901 -0.795609 3 0 3 
z
" style="stroke: #f7c334"/>
</defs>
<g clip-path="url(#p0543f78f2b)">
<use href="#m6a6519ec40" x="550.3" y="66.4" style="fill: #f7c334; stroke: #f7c334"/>
<use href="#m6a6519ec40" x="579.8" y="82.4" style="fill: #f7c334; stroke: #f7c334"/>
<use href="#m6a6519ec40" x="619.5" y="93.7" style="fill: #f7c334; stroke: #f7c334"/>
</g>
</g>
<g id="line2d_66">
<defs>
<path id="mb1c0a80489" d="M 0 3 
C 0.795609 3 1.55874 2.683901 2.12132 2.12132 
C 2.683901 1.55874 3 0.795609 3 0 
C 3 -0.795609 2.683901 -1.55874 2.12132 -2.12132 
C 1.55874 -2.683901 0.795609 -3 0 -3 
C -0.795609 -3 -1.55874 -2.683901 -2.12132 -2.12132 
C -2.683901 -1.55874 -3 -0.795609 -3 0 
C -3 0.795609 -2.683901 1.55874 -2.12132 2.12132 
C -1.55874 2.683901 -0.795609 3 0 3 
z
" style="stroke: #f6a23c"/>
</defs>
<g clip-path="url(#p0543f78f2b)">
<use href="#mb1c0a80489" x="537.9" y="83.5" style="fill: #f6a23c; stroke: #f6a23c"/>
<use href="#mb1c0a80489" x="550.3" y="95.3" style="fill: #f6a23c; stroke: #f6a23c"/>
<use href="#mb1c0a80489" x="579.8" y="112.4" style="fill: #f6a23c; stroke: #f6a23c"/>
<use href="#mb1c0a80489" x="598.5" y="122.3" style="fill: #f6a23c; stroke: #f6a23c"/>
</g>
</g>
<g id="line2d_67">
<defs>
<path id="mc0e061fed7" d="M 0 3 
C 0.795609 3 1.55874 2.683901 2.12132 2.12132 
C 2.683901 1.55874 3 0.795609 3 0 
C 3 -0.795609 2.683901 -1.55874 2.12132 -2.12132 
C 1.55874 -2.683901 0.795609 -3 0 -3 
C -0.795609 -3 -1.55874 -2.683901 -2.12132 -2.12132 
C -2.683901 -1.55874 -3 -0.795609 -3 0 
C -3 0.795609 -2.683901 1.55874 -2.12132 2.12132 
C -1.55874 2.683901 -0.795609 3 0 3 
z
" style="stroke: #e8734e"/>
</defs>
<g clip-path="url(#p0543f78f2b)">
<use href="#mc0e061fed7" x="527.7" y="101.2" style="fill: #e8734e; stroke: #e8734e"/>
<use href="#mc0e061fed7" x="537.9" y="104.3" style="fill: #e8734e; stroke: #e8734e"/>
<use href="#mc0e061fed7" x="550.3" y="122.9" style="fill: #e8734e; stroke: #e8734e"/>
</g>
</g>
<g id="patch_15">
<path d="M 508.4 217.5 
L 508.4 42.3 
" style="fill: none; stroke: #000000; stroke-width: 0.8; stroke-linejoin: miter; stroke-linecap: square"/>
</g>
<g id="patch_16">
<path d="M 508.4 217.5 
L 684.5 217.5 
" style="fill: none; stroke: #000000; stroke-width: 0.8; stroke-linejoin: miter; stroke-linecap: square"/>
</g>
</g>
<g id="line2d_68">
<path d="M 110.4 95.8 
L 159.9 95.8 
" style="fill: none; stroke: #bdbdbd; stroke-width: 1.35; stroke-linecap: square"/>
</g>
<g id="line2d_69">
<path d="M 159.9 95.8 
L 208.9 95.8 
" style="fill: none; stroke: #bdbdbd; stroke-width: 1.35; stroke-linecap: square"/>
</g>
<g id="line2d_70">
<path d="M 135.3 137.8 
L 184.5 137.8 
" style="fill: none; stroke: #bdbdbd; stroke-width: 1.35; stroke-linecap: square"/>
</g>
<g id="line2d_71">
<path d="M 110.4 95.8 
L 135.3 137.8 
" style="fill: none; stroke: #bdbdbd; stroke-width: 1.35; stroke-linecap: square"/>
</g>
<g id="line2d_72">
<path d="M 159.9 95.8 
L 135.3 137.8 
" style="fill: none; stroke: #bdbdbd; stroke-width: 1.35; stroke-linecap: square"/>
</g>
<g id="line2d_73">
<path d="M 159.9 95.8 
L 184.5 137.8 
" style="fill: none; stroke: #bdbdbd; stroke-width: 1.35; stroke-linecap: square"/>
</g>
<g id="line2d_74">
<path d="M 208.9 95.8 
L 184.5 137.8 
" style="fill: none; stroke: #bdbdbd; stroke-width: 1.35; stroke-linecap: square"/>
</g>
<g id="line2d_75">
<path d="M 159.4 156.6 
L 179.4 156.6 
" style="fill: none; stroke: #2163ad; stroke-width: 2.4"/>
</g>
<g id="line2d_76">
<path d="M 160.2 165.7 
L 178 165.7 
" style="fill: none; stroke-dasharray: 2.702,2.296; stroke-dashoffset: 0; stroke: #8cc0e3; stroke-width: 1.4"/>
</g>
<g id="line2d_77">
<path d="M 160.2 174.8 
L 178 174.8 
" style="fill: none; stroke-dasharray: 5.25,2.45,1.008,2.45; stroke-dashoffset: 0; stroke: #e4878a; stroke-width: 1.4"/>
</g>
<g id="line2d_78">
<path d="M 160.2 183.9 
L 178 183.9 
" style="fill: none; stroke-dasharray: 4.2,1.96; stroke-dashoffset: 0; stroke: #d9626a; stroke-width: 1.4"/>
</g>
<g id="patch_17">
<path d="M 110.4 100.2 
C 111.566894 100.2 112.686151 99.736388 113.51127 98.91127 
C 114.336388 98.086151 114.8 96.966894 114.8 95.8 
C 114.8 94.633106 114.336388 93.513849 113.51127 92.68873 
C 112.686151 91.863612 111.566894 91.4 110.4 91.4 
C 109.233106 91.4 108.113849 91.863612 107.28873 92.68873 
C 106.463612 93.513849 106 94.633106 106 95.8 
C 106 96.966894 106.463612 98.086151 107.28873 98.91127 
C 108.113849 99.736388 109.233106 100.2 110.4 100.2 
z
" style="fill: #f6f6f6; stroke: #bdbdbd; stroke-width: 1.2; stroke-linejoin: miter"/>
</g>
<g id="patch_18">
<path d="M 159.9 100.2 
C 161.066894 100.2 162.186151 99.736388 163.01127 98.91127 
C 163.836388 98.086151 164.3 96.966894 164.3 95.8 
C 164.3 94.633106 163.836388 93.513849 163.01127 92.68873 
C 162.186151 91.863612 161.066894 91.4 159.9 91.4 
C 158.733106 91.4 157.613849 91.863612 156.78873 92.68873 
C 155.963612 93.513849 155.5 94.633106 155.5 95.8 
C 155.5 96.966894 155.963612 98.086151 156.78873 98.91127 
C 157.613849 99.736388 158.733106 100.2 159.9 100.2 
z
" style="fill: #f6f6f6; stroke: #bdbdbd; stroke-width: 1.2; stroke-linejoin: miter"/>
</g>
<g id="patch_19">
<path d="M 208.9 100.2 
C 210.066894 100.2 211.186151 99.736388 212.01127 98.91127 
C 212.836388 98.086151 213.3 96.966894 213.3 95.8 
C 213.3 94.633106 212.836388 93.513849 212.01127 92.68873 
C 211.186151 91.863612 210.066894 91.4 208.9 91.4 
C 207.733106 91.4 206.613849 91.863612 205.78873 92.68873 
C 204.963612 93.513849 204.5 94.633106 204.5 95.8 
C 204.5 96.966894 204.963612 98.086151 205.78873 98.91127 
C 206.613849 99.736388 207.733106 100.2 208.9 100.2 
z
" style="fill: #f6f6f6; stroke: #bdbdbd; stroke-width: 1.2; stroke-linejoin: miter"/>
</g>
<g id="patch_20">
<path d="M 135.3 142.2 
C 136.466894 142.2 137.586151 141.736388 138.41127 140.91127 
C 139.236388 140.086151 139.7 138.966894 139.7 137.8 
C 139.7 136.633106 139.236388 135.513849 138.41127 134.68873 
C 137.586151 133.863612 136.466894 133.4 135.3 133.4 
C 134.133106 133.4 133.013849 133.863612 132.18873 134.68873 
C 131.363612 135.513849 130.9 136.633106 130.9 137.8 
C 130.9 138.966894 131.363612 140.086151 132.18873 140.91127 
C 133.013849 141.736388 134.133106 142.2 135.3 142.2 
z
" style="fill: #f6f6f6; stroke: #bdbdbd; stroke-width: 1.2; stroke-linejoin: miter"/>
</g>
<g id="patch_21">
<path d="M 184.5 142.2 
C 185.666894 142.2 186.786151 141.736388 187.61127 140.91127 
C 188.436388 140.086151 188.9 138.966894 188.9 137.8 
C 188.9 136.633106 188.436388 135.513849 187.61127 134.68873 
C 186.786151 133.863612 185.666894 133.4 184.5 133.4 
C 183.333106 133.4 182.213849 133.863612 181.38873 134.68873 
C 180.563612 135.513849 180.1 136.633106 180.1 137.8 
C 180.1 138.966894 180.563612 140.086151 181.38873 140.91127 
C 182.213849 141.736388 183.333106 142.2 184.5 142.2 
z
" style="fill: #f6f6f6; stroke: #bdbdbd; stroke-width: 1.2; stroke-linejoin: miter"/>
</g>
<g id="line2d_79">
<path d="M 400.3 179.2 
L 419.4 179.2 
" style="fill: none; stroke: #a8279f; stroke-width: 1.4; stroke-linecap: square"/>
</g>
<g id="line2d_80">
<g>
<use href="#m99362f6c57" x="409.9" y="179.2" style="fill: #a8279f; stroke: #a8279f"/>
</g>
</g>
<g id="line2d_81">
<path d="M 400.3 192.1 
L 419.4 192.1 
" style="fill: none; stroke-dasharray: 5.18,2.24; stroke-dashoffset: 0; stroke: #a8279f; stroke-width: 1.4"/>
</g>
<g id="line2d_82">
<path d="M 400.3 205 
L 419.4 205 
" style="fill: none; stroke-dasharray: 1.4,2.31; stroke-dashoffset: 0; stroke: #a8279f; stroke-width: 1.4"/>
</g>
<g id="line2d_83">
<g>
<use href="#mc0e061fed7" x="525.9" y="177.8" style="fill: #e8734e; stroke: #e8734e"/>
</g>
</g>
<g id="line2d_84">
<path d="M 517.7 191.2 
L 535.1 191.2 
" style="fill: none; stroke-dasharray: 1.4,2.31; stroke-dashoffset: 0; stroke: #e8734e; stroke-width: 1.4"/>
</g>
<g id="line2d_85">
<path d="M 517.7 204.2 
L 535.1 204.2 
" style="fill: none; stroke-dasharray: 5.18,2.24; stroke-dashoffset: 0; stroke: #e8734e; stroke-width: 1.4"/>
</g>
<g id="patch_22">
<path d="M 133.5 108.6 
L 134.030303 107.940453 
L 134.560606 107.634634 
L 135.090909 107.394016 
L 135.621212 107.188188 
L 136.151515 107.005163 
L 136.681818 106.838738 
L 137.212121 106.685206 
L 137.742424 106.542149 
L 138.272727 106.407886 
L 138.80303 106.2812 
L 139.333333 106.161172 
L 139.863636 106.047096 
L 140.393939 105.938413 
L 140.924242 105.834674 
L 141.454545 105.735513 
L 141.984848 105.64063 
L 142.515152 105.549771 
L 143.045455 105.462725 
L 143.575758 105.379313 
L 144.106061 105.299379 
L 144.636364 105.222792 
L 145.166667 105.149438 
L 145.69697 105.079218 
L 146.227273 105.012045 
L 146.757576 104.947843 
L 147.287879 104.886547 
L 147.818182 104.828097 
L 148.348485 104.772443 
L 148.878788 104.719538 
L 149.409091 104.669344 
L 149.939394 104.621823 
L 150.469697 104.576946 
L 151 104.534682 
L 151.530303 104.495008 
L 152.060606 104.457902 
L 152.590909 104.423343 
L 153.121212 104.391315 
L 153.651515 104.361802 
L 154.181818 104.33479 
L 154.712121 104.310269 
L 155.242424 104.288227 
L 155.772727 104.268655 
L 156.30303 104.251545 
L 156.833333 104.236892 
L 157.363636 104.224689 
L 157.893939 104.214932 
L 158.424242 104.207617 
L 158.954545 104.202742 
L 159.484848 104.200305 
L 160.015152 104.200305 
L 160.545455 104.202742 
L 161.075758 104.207617 
L 161.606061 104.214932 
L 162.136364 104.224689 
L 162.666667 104.236892 
L 163.19697 104.251545 
L 163.727273 104.268655 
L 164.257576 104.288227 
L 164.787879 104.310269 
L 165.318182 104.33479 
L 165.848485 104.361802 
L 166.378788 104.391315 
L 166.909091 104.423343 
L 167.439394 104.457902 
L 167.969697 104.495008 
L 168.5 104.534682 
L 169.030303 104.576946 
L 169.560606 104.621823 
L 170.090909 104.669344 
L 170.621212 104.719538 
L 171.151515 104.772443 
L 171.681818 104.828097 
L 172.212121 104.886547 
L 172.742424 104.947843 
L 173.272727 105.012045 
L 173.80303 105.079218 
L 174.333333 105.149438 
L 174.863636 105.222792 
L 175.393939 105.299379 
L 175.924242 105.379313 
L 176.454545 105.462725 
L 176.984848 105.549771 
L 177.515152 105.64063 
L 178.045455 105.735513 
L 178.575758 105.834674 
L 179.106061 105.938413 
L 179.636364 106.047096 
L 180.166667 106.161172 
L 180.69697 106.2812 
L 181.227273 106.407886 
L 181.757576 106.542149 
L 182.287879 106.685206 
L 182.818182 106.838738 
L 183.348485 107.005163 
L 183.878788 107.188188 
L 184.409091 107.394016 
L 184.939394 107.634634 
L 185.469697 107.940453 
L 186 108.6 
L 186 108.6 
z
" style="fill: #80b4df"/>
</g>
<g id="text_53">
<text style="font-weight: 700; font-size: 12.660px; font-family: 'Liberation Sans'; text-anchor: middle; stroke: #000000; stroke-width: 0.45px" x="43.5" y="204.01125" transform="rotate(-0 43.5 204.01125)" textLength="7.11" lengthAdjust="spacingAndGlyphs">c</text>
</g>
<g id="text_54">
<text style="font-size: 9.495px; font-family: 'Liberation Sans'; text-anchor: start; stroke: #000000; stroke-width: 0.08px" x="185.7" y="159.983437" transform="rotate(-0 185.7 159.983437)" textLength="20.86" lengthAdjust="spacingAndGlyphs">MLIP</text>
</g>
<g id="text_55">
<text style="font-size: 9.495px; font-family: 'Liberation Sans'; text-anchor: start; stroke: #000000; stroke-width: 0.08px" x="185.7" y="169.083438" transform="rotate(-0 185.7 169.083438)" textLength="19.61" lengthAdjust="spacingAndGlyphs">EAM</text>
</g>
<g id="text_56">
<text style="font-size: 9.495px; font-family: 'Liberation Sans'; text-anchor: start; stroke: #000000; stroke-width: 0.08px" x="185.7" y="178.183437" transform="rotate(-0 185.7 178.183437)" textLength="9.27" lengthAdjust="spacingAndGlyphs">LT</text>
</g>
<g id="text_57">
<text style="font-size: 9.495px; font-family: 'Liberation Sans'; text-anchor: start; stroke: #000000; stroke-width: 0.08px" x="185.7" y="187.283437" transform="rotate(-0 185.7 187.283437)" textLength="17.45" lengthAdjust="spacingAndGlyphs">DFT</text>
</g>
<g id="text_58">
<text style="font-weight: 700; font-size: 12.660px; font-family: 'Liberation Sans'; text-anchor: middle; stroke: #000000; stroke-width: 0.45px" x="128.2" y="23.11125" transform="rotate(-0 128.2 23.11125)" textLength="8.10" lengthAdjust="spacingAndGlyphs">a</text>
</g>
<g id="text_59">
<text style="font-weight: 700; font-size: 12.660px; font-family: 'Liberation Sans'; text-anchor: middle; stroke: #000000; stroke-width: 0.45px" x="108.8" y="123.21125" transform="rotate(-0 108.8 123.21125)" textLength="8.59" lengthAdjust="spacingAndGlyphs">b</text>
</g>
<g id="text_60">
<text style="font-size: 10.128px; font-family: 'Liberation Sans'; text-anchor: start; fill: #a8279f; stroke: #a8279f; stroke-width: 0.08px" x="306.6" y="18.349" transform="rotate(-0 306.6 18.349)" textLength="40.90" lengthAdjust="spacingAndGlyphs">300 MPa</text>
</g>
<g id="text_61">
<text style="font-size: 10.128px; font-family: 'Liberation Sans'; text-anchor: start; fill: #e8714b; stroke: #e8714b; stroke-width: 0.08px" x="306.4" y="74.949" transform="rotate(-0 306.4 74.949)" textLength="40.90" lengthAdjust="spacingAndGlyphs">600 MPa</text>
</g>
<g id="text_62">
<text style="font-weight: 700; font-size: 12.660px; font-family: 'Liberation Sans'; text-anchor: middle; stroke: #000000; stroke-width: 0.45px" x="278.3" y="40.51125" transform="rotate(-0 278.3 40.51125)" textLength="8.59" lengthAdjust="spacingAndGlyphs">d</text>
</g>
<g id="text_63">
<text style="font-weight: 700; font-size: 12.660px; font-family: 'Liberation Sans'; text-anchor: middle; stroke: #000000; stroke-width: 0.45px" x="278.4" y="117.91125" transform="rotate(-0 278.4 117.91125)" textLength="8.14" lengthAdjust="spacingAndGlyphs">e</text>
</g>
<g id="text_64">
<text style="font-size: 9.495px; font-family: 'Liberation Sans'; text-anchor: start; stroke: #000000; stroke-width: 0.08px" x="426.7" y="182.383437" transform="rotate(-0 426.7 182.383437)" textLength="18.84" lengthAdjust="spacingAndGlyphs">PAFI</text>
</g>
<g id="text_65">
<text style="font-size: 9.495px; font-family: 'Liberation Sans'; text-anchor: start; stroke: #000000; stroke-width: 0.08px" x="426.7" y="195.283437" transform="rotate(-0 426.7 195.283437)" textLength="23.48" lengthAdjust="spacingAndGlyphs">HTST</text>
</g>
<g id="text_66">
<text style="font-size: 9.495px; font-family: 'Liberation Sans'; text-anchor: start; stroke: #000000; stroke-width: 0.08px" x="426.7" y="208.183437" transform="rotate(-0 426.7 208.183437)" textLength="29.63" lengthAdjust="spacingAndGlyphs">VHTST</text>
</g>
<g id="text_67">
<text style="font-size: 7.543px; font-family: 'Liberation Sans'; text-anchor: start; fill: #5a9ad2; stroke: #5a9ad2; stroke-width: 0.08px" x="362.7" y="157.472953" transform="rotate(-0 362.7 157.472953)" textLength="18.34" lengthAdjust="spacingAndGlyphs">300K</text>
</g>
<g id="text_68">
<text style="font-size: 7.543px; font-family: 'Liberation Sans'; text-anchor: start; fill: #2a70ba; stroke: #2a70ba; stroke-width: 0.08px" x="366" y="150.572953" transform="rotate(-0 366 150.572953)" textLength="18.34" lengthAdjust="spacingAndGlyphs">200K</text>
</g>
<g id="text_69">
<text style="font-size: 7.543px; font-family: 'Liberation Sans'; text-anchor: start; fill: #1a5ea8; stroke: #1a5ea8; stroke-width: 0.08px" x="370.4" y="142.772953" transform="rotate(-0 370.4 142.772953)" textLength="13.79" lengthAdjust="spacingAndGlyphs">75K</text>
</g>
<g id="text_70">
<text style="font-size: 7.543px; font-family: 'Liberation Sans'; text-anchor: start; fill: #0b2f6b; stroke: #0b2f6b; stroke-width: 0.08px" x="370.4" y="134.772953" transform="rotate(-0 370.4 134.772953)" textLength="13.79" lengthAdjust="spacingAndGlyphs">25K</text>
</g>
<g id="text_71">
<text style="font-size: 7.385px; font-family: 'Liberation Sans'; text-anchor: start; fill: #9a9a9a; stroke: #9a9a9a; stroke-width: 0.08px" x="303.8" y="139.931563" transform="rotate(-0 303.8 139.931563)" textLength="27.60" lengthAdjust="spacingAndGlyphs">600MPa</text>
</g>
<g id="text_72">
<text style="font-size: 10.339px; font-family: 'Liberation Sans'; text-anchor: middle; fill: #f7c334; stroke: #f7c334; stroke-width: 0.08px" x="652.408912" y="109.716024" transform="rotate(-338.5 652.408912 109.716024)" textLength="41.75" lengthAdjust="spacingAndGlyphs">800 MPa</text>
</g>
<g id="text_73">
<text style="font-size: 10.339px; font-family: 'Liberation Sans'; text-anchor: middle; fill: #f6a23c; stroke: #f6a23c; stroke-width: 0.08px" x="652.635817" y="145.34076" transform="rotate(-334.5 652.635817 145.34076)" textLength="41.75" lengthAdjust="spacingAndGlyphs">700 MPa</text>
</g>
<g id="text_74">
<text style="font-size: 10.339px; font-family: 'Liberation Sans'; text-anchor: middle; fill: #e8734e; stroke: #e8734e; stroke-width: 0.08px" x="651.509673" y="181.976486" transform="rotate(-331.5 651.509673 181.976486)" textLength="41.75" lengthAdjust="spacingAndGlyphs">600 MPa</text>
</g>
<g id="text_75">
<text style="font-weight: 700; font-size: 12.660px; font-family: 'Liberation Sans'; text-anchor: middle; stroke: #000000; stroke-width: 0.45px" x="521.8" y="38.91125" transform="rotate(-0 521.8 38.91125)" textLength="5.22" lengthAdjust="spacingAndGlyphs">f</text>
</g>
<g id="text_76">
<text style="font-size: 9.495px; font-family: 'Liberation Sans'; text-anchor: start; stroke: #000000; stroke-width: 0.08px" x="541.8" y="181.283437" transform="rotate(-0 541.8 181.283437)" textLength="14.70" lengthAdjust="spacingAndGlyphs">MD</text>
</g>
<g id="text_77">
<text style="font-size: 9.495px; font-family: 'Liberation Sans'; text-anchor: start; stroke: #000000; stroke-width: 0.08px" x="541.8" y="194.183437" transform="rotate(-0 541.8 194.183437)" textLength="87.09" lengthAdjust="spacingAndGlyphs">HTST model (Eq. 1)</text>
</g>
<g id="text_78">
<text style="font-size: 9.495px; font-family: 'Liberation Sans'; text-anchor: start; stroke: #000000; stroke-width: 0.08px" x="541.8" y="207.183437" transform="rotate(-0 541.8 207.183437)" textLength="93.25" lengthAdjust="spacingAndGlyphs">VHTST model (Eq. 1)</text>
</g>
<g id="line2d_86">
<path d="M 134.9 109.9 
L 184.6 109.9 
" style="fill: none; stroke: #1f5fae; stroke-width: 3.8; stroke-linecap: round"/>
</g>
<g id="line2d_87">
<path d="M 134.1 109.9 
L 185 109.9 
" style="fill: none; stroke-dasharray: 3.8,2.2; stroke-dashoffset: 0; stroke: #f28b7d; stroke-width: 1.8"/>
</g>
</g>
<defs>
<clipPath id="p120eb2be8b">
<rect x="32.4" y="12.9" width="172.4" height="204.5"/>
</clipPath>
<clipPath id="pe87dc38e16">
<rect x="120.1" y="15.1" width="85.1" height="54.8"/>
</clipPath>
<clipPath id="p90932cecc2">
<rect x="267.1" y="9.3" width="196.3" height="208.3"/>
</clipPath>
<clipPath id="p895ab0e176">
<rect x="300.5" y="124.4" width="76.9" height="64.1"/>
</clipPath>
<clipPath id="p0543f78f2b">
<rect x="508.4" y="42.3" width="176.1" height="175.2"/>
</clipPath>
</defs>
</svg>

</body></html>
